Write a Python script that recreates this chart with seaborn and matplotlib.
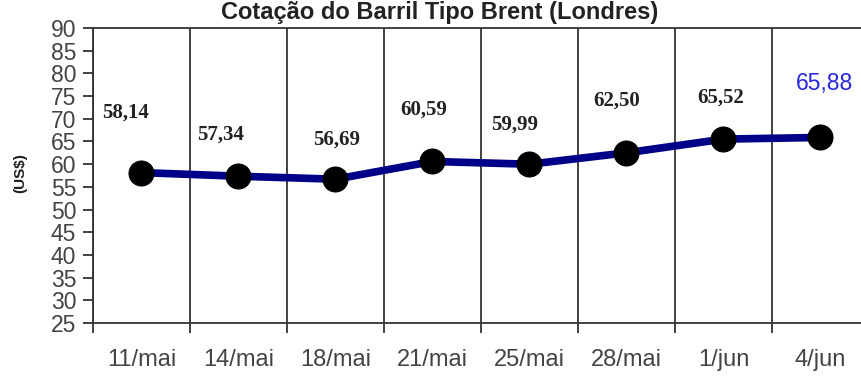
import matplotlib
matplotlib.use("Agg")
import matplotlib.pyplot as plt
import seaborn as sns
import pandas as pd
import numpy as np
from matplotlib.ticker import FixedLocator

# ---- data ----
dates = ["11/mai", "14/mai", "18/mai", "21/mai", "25/mai", "28/mai", "1/jun", "4/jun"]
prices = [58.14, 57.34, 56.69, 60.59, 59.99, 62.50, 65.52, 65.88]
value_labels = ["58,14", "57,34", "56,69", "60,59", "59,99", "62,50", "65,52", "65,88"]
y_ticks = list(range(25, 95, 5))
title = "Cotação do Barril Tipo Brent (Londres)"
y_label = "(US$)"

# label offsets (pixels) relative to each point — styling only
label_offsets = [(-16, 60), (-18, 42), (1, 40), (-9, 52), (-15, 40), (-10, 52), (-3, 42), (4, 54)]

sns.set_theme(style="white")
plt.rcParams["font.family"] = ["Liberation Sans", "DejaVu Sans"]

df = pd.DataFrame({"data": dates, "preco": prices})

fig = plt.figure(figsize=(8.62, 3.79), dpi=100)
ax = fig.add_axes([93 / 862, 56 / 379, 776 / 862, 295 / 379])

sns.lineplot(data=df, x="data", y="preco", ax=ax, color="#000088", linewidth=5.5,
             marker="o", markersize=18, markerfacecolor="black", markeredgecolor="black",
             zorder=5)

ax.set_xlim(-0.5, len(dates) - 0.5)
ax.set_ylim(25, 90)
ax.set_yticks(y_ticks)
ax.set_yticklabels([str(t) for t in y_ticks])
ax.set_xticks(range(len(dates)))
ax.set_xticklabels(dates)

ax.xaxis.set_minor_locator(FixedLocator(np.arange(-0.5, len(dates), 1.0)))
ax.tick_params(axis="x", which="major", length=0, pad=19, labelsize=17, labelcolor="#444444")
ax.tick_params(axis="x", which="minor", length=7, width=1.3, color="#333333", direction="out",
               bottom=True)
ax.tick_params(axis="y", which="major", length=7, width=1.3, color="#333333", direction="out",
               left=True, pad=5, labelsize=16.5, labelcolor="#444444")
ax.grid(False)
ax.grid(True, axis="x", which="minor", color="#333333", linewidth=1.3)

for side in ["left", "bottom", "top"]:
    ax.spines[side].set_visible(True)
    ax.spines[side].set_color("#333333")
    ax.spines[side].set_linewidth(1.3)
ax.spines["right"].set_visible(False)
ax.set_xlabel("")
ax.set_ylabel("")

for i, (v, lab, off) in enumerate(zip(prices, value_labels, label_offsets)):
    if i == len(prices) - 1:
        ax.annotate(lab, xy=(i, v), xytext=off, textcoords="offset pixels",
                    ha="center", va="center", fontsize=16.5, color="#2828E0",
                    family=["Liberation Sans", "DejaVu Sans"])
    else:
        ax.annotate(lab, xy=(i, v), xytext=off, textcoords="offset pixels",
                    ha="center", va="center", fontsize=15, fontweight="bold",
                    color="#222222", family=["Liberation Serif", "DejaVu Serif"])

fig.text(20 / 862, 1 - 173 / 379, y_label, rotation=90, ha="center", va="center",
         fontsize=11, fontweight="bold", color="#222222")
fig.text(440 / 862, 1 - 1 / 379, title, ha="center", va="top",
         fontsize=17, fontweight="bold", color="#222222")

fig.savefig("out.png", dpi=100)
